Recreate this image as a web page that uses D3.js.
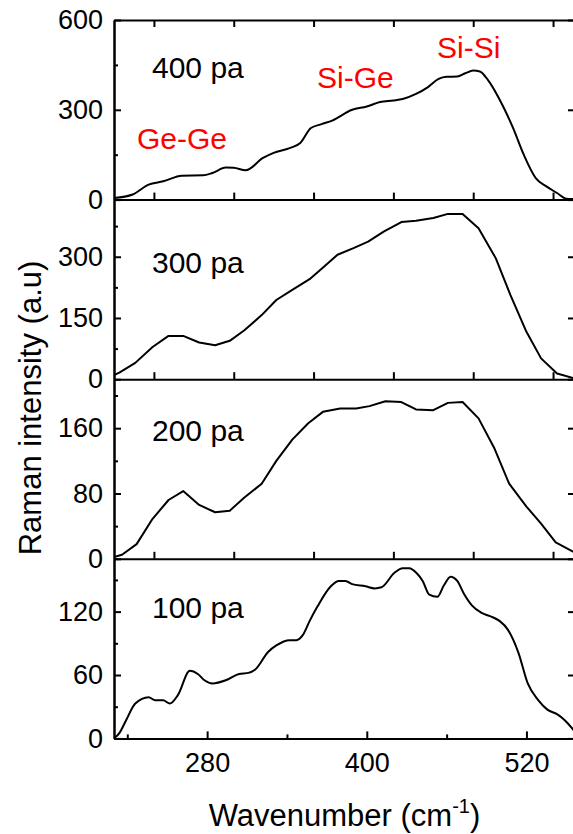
<!DOCTYPE html>
<html>
<head>
<meta charset="utf-8">
<script src="https://cdn.jsdelivr.net/npm/d3@7"></script>
<style>
  body { margin: 0; background: #fff; }
  svg { display: block; font-family: "Liberation Sans", Arial, sans-serif; }
  .axis path, .axis line { stroke: #000; stroke-width: 2; }
  .axis text { font-size: 27px; fill: #000; font-family: "Liberation Sans", Arial, sans-serif; }
</style>
</head>
<body>
<svg id="chart" width="573" height="834"></svg>
<script>
// values
const labels = ["400 pa", "300 pa", "200 pa", "100 pa"];

const wn400 = [210, 224, 236, 247, 261, 277, 284, 294, 300, 309, 322, 330, 342, 350, 358, 366, 374, 389, 400, 410, 420, 427, 437, 446, 454, 460, 468, 474, 480, 485, 491, 500, 510, 518, 527, 535, 543, 550, 556];
const int400 = [5, 17, 50, 61, 80, 81, 89, 107, 106, 98, 139, 156, 172, 189, 239, 252, 264, 300, 311, 326, 331, 336, 353, 376, 403, 410, 411, 422, 431, 428, 400, 333, 239, 150, 72, 44, 22, 3, 2];

const wn300 = [210, 214, 226, 239, 251, 262, 274, 286, 297, 308, 321, 332, 344, 357, 368, 378, 390, 401, 413, 426, 437, 450, 461, 472, 484, 497, 508, 520, 531, 543, 556];
const int300 = [10, 16, 40, 79, 106, 106, 90, 83, 94, 120, 157, 194, 219, 245, 276, 305, 321, 337, 362, 385, 388, 395, 405, 405, 370, 296, 206, 116, 51, 14, 2];

const wn200 = [210, 216, 227, 239, 251, 262, 274, 286, 297, 308, 321, 332, 344, 356, 367, 380, 392, 402, 414, 426, 437, 450, 461, 472, 484, 496, 507, 520, 531, 542, 556];
const int200 = [2, 5, 18, 49, 72, 83, 66, 57, 59, 75, 92, 120, 146, 166, 180, 184, 184, 187, 193, 192, 183, 182, 191, 192, 172, 135, 92, 64, 43, 20, 8];

const wn100 = [210, 214, 219, 226, 236, 241, 247, 252, 258, 267, 273, 278, 284, 294, 304, 311, 316, 326, 332, 342, 347, 352, 357, 363, 373, 379, 384, 389, 399, 406, 411, 421, 427, 432, 437, 442, 447, 453, 458, 463, 468, 473, 479, 486, 494, 500, 506, 514, 521, 529, 536, 543, 549, 556];
const int100 = [0, 5, 17, 33, 39, 36, 36, 33, 41, 64, 61, 55, 52, 55, 61, 62, 65, 82, 88, 93, 93, 98, 111, 125, 144, 149, 149, 146, 144, 142, 143, 157, 161, 161, 157, 149, 136, 134, 145, 153, 149, 137, 126, 119, 115, 111, 103, 81, 52, 36, 27, 23, 17, 7];

const yMax = [600, 440, 220, 170];
const yMajor = [[0, 300, 600], [0, 150, 300], [0, 80, 160], [0, 60, 120]];
const yMinor = [[150, 450], [75, 225, 375], [40, 120, 200], [30, 90, 150]];
const xMajor = [280, 400, 520];
const xMinor = [220, 340, 460];
const xTopPanels = [240, 300, 360, 420, 480, 540];

const peaks = [
  { name: "Ge-Ge", x: 137, y: 149 },
  { name: "Si-Ge", x: 317, y: 88 },
  { name: "Si-Si", x: 437, y: 58 }
];

const series = [
  { wn: wn400, val: int400, curve: d3.curveMonotoneX },
  { wn: wn300, val: int300, curve: d3.curveLinear },
  { wn: wn200, val: int200, curve: d3.curveLinear },
  { wn: wn100, val: int100, curve: d3.curveMonotoneX }
];

const svg = d3.select("#chart");
const plotLeft = 114, plotRight = 575, plotTop = 20, panelH = 179.6;

const x = d3.scaleLinear().domain([210, 556.5]).range([plotLeft, plotRight]);

series.forEach(function (s, i) {
  const y0 = plotTop + i * panelH;
  const y = d3.scaleLinear().domain([0, yMax[i]]).range([y0 + panelH, y0]);

  svg.append("clipPath").attr("id", "clip" + i)
    .append("rect")
    .attr("x", plotLeft).attr("y", y0)
    .attr("width", plotRight - plotLeft).attr("height", panelH);

  const line = d3.line()
    .x(function (d) { return x(d[0]); })
    .y(function (d) { return y(d[1]); })
    .curve(s.curve);

  svg.append("path")
    .datum(d3.zip(s.wn, s.val))
    .attr("clip-path", "url(#clip" + i + ")")
    .attr("fill", "none")
    .attr("stroke", "#000")
    .attr("stroke-width", 2)
    .attr("stroke-linejoin", "round")
    .attr("d", line);

  // left axis, inward ticks
  svg.append("g").attr("class", "axis")
    .attr("transform", `translate(${plotLeft},0)`)
    .call(d3.axisLeft(y).tickValues(yMajor[i]).tickSize(-7).tickSizeOuter(0).tickPadding(11)
      .tickFormat(d3.format("d")));
  svg.append("g").attr("class", "axis")
    .attr("transform", `translate(${plotLeft},0)`)
    .call(d3.axisLeft(y).tickValues(yMinor[i]).tickSize(-4).tickSizeOuter(0).tickFormat(""));

  // right axis, major ticks only
  svg.append("g").attr("class", "axis")
    .attr("transform", `translate(${plotRight},0)`)
    .call(d3.axisRight(y).tickValues(yMajor[i]).tickSize(-7).tickSizeOuter(0).tickFormat(""));

  // bottom edge
  const bottom = svg.append("g").attr("class", "axis")
    .attr("transform", `translate(0,${y0 + panelH})`);
  if (i < 3) {
    bottom.call(d3.axisBottom(x).tickValues(xTopPanels).tickSize(-7).tickSizeOuter(0).tickFormat(""));
  } else {
    bottom.call(d3.axisBottom(x).tickValues(xMajor).tickSize(-7).tickSizeOuter(0).tickPadding(14));
    svg.append("g").attr("class", "axis")
      .attr("transform", `translate(0,${y0 + panelH})`)
      .call(d3.axisBottom(x).tickValues(xMinor).tickSize(-4).tickSizeOuter(0).tickFormat(""));
  }
  if (i === 0) {
    svg.append("g").attr("class", "axis")
      .attr("transform", `translate(0,${y0})`)
      .call(d3.axisTop(x).tickValues(xTopPanels).tickSize(-7).tickSizeOuter(0).tickFormat(""));
  }

  svg.append("text")
    .attr("x", 152)
    .attr("y", [78, 273, 441, 618][i])
    .attr("font-size", 30)
    .text(labels[i]);
});

svg.selectAll(".peak")
  .data(peaks)
  .enter().append("text")
  .attr("class", "peak")
  .attr("x", function (d) { return d.x; })
  .attr("y", function (d) { return d.y; })
  .attr("font-size", 30)
  .attr("fill", "#ff0000")
  .text(function (d) { return d.name; });

const xt = svg.append("text")
  .attr("x", (plotLeft + plotRight) / 2)
  .attr("y", 826)
  .attr("text-anchor", "middle")
  .attr("font-size", 31);
xt.append("tspan").text("Wavenumber (cm");
xt.append("tspan").attr("font-size", 20).attr("dy", -13).text("-1");
xt.append("tspan").attr("dy", 13).text(")");

svg.append("text")
  .attr("transform", "translate(41,408) rotate(-90)")
  .attr("text-anchor", "middle")
  .attr("font-size", 31)
  .text("Raman intensity (a.u)");
</script>
</body>
</html>
